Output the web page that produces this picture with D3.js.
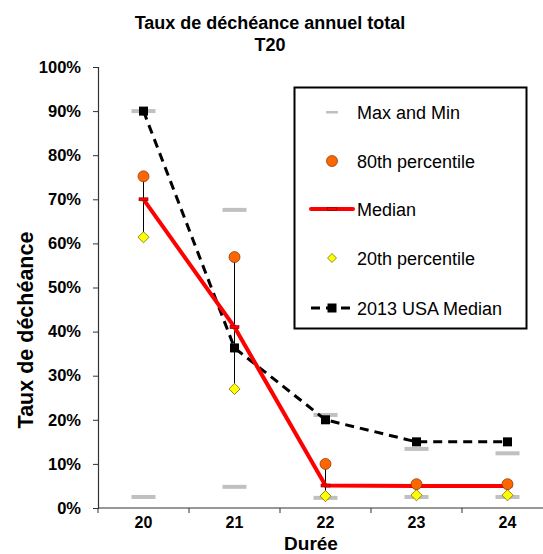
<!DOCTYPE html>
<html>
<head>
<meta charset="utf-8">
<script src="https://cdn.jsdelivr.net/npm/d3@7"></script>
<style>
  html, body { margin: 0; padding: 0; background: #fff; }
  svg { display: block; font-family: Arial, "Liberation Sans", sans-serif; }
</style>
</head>
<body>
<svg id="chart" width="543" height="554"></svg>
<script>
// Durée categories and series (fractions)
const categories = ["20", "21", "22", "23", "24"];
const maxValues  = [0.900, 0.676, 0.211, 0.134, 0.124];
const minValues  = [0.025, 0.048, 0.023, 0.025, 0.025];
const p80Values  = [0.752, 0.569, 0.100, 0.054, 0.054];
const medianValues = [0.700, 0.410, 0.051, 0.050, 0.050];
const p20Values  = [0.614, 0.270, 0.027, 0.029, 0.029];
const usaMedian  = [0.900, 0.363, 0.200, 0.150, 0.150];
const yTicks = [0, 0.1, 0.2, 0.3, 0.4, 0.5, 0.6, 0.7, 0.8, 0.9, 1.0];
const legendLabels = ["Max and Min", "80th percentile", "Median", "20th percentile", "2013 USA Median"];

const svg = d3.select("#chart");
const plotLeft = 98, plotTop = 67, plotBottom = 508, plotRight = 553;

const x = d3.scaleBand().domain(categories).range([plotLeft, plotRight]).padding(0);
const y = d3.scaleLinear().domain([0, 1]).range([plotBottom, plotTop]);
const cx = d => x(d) + x.bandwidth() / 2;

// Title
svg.append("text").attr("x", 270).attr("y", 29).attr("text-anchor", "middle")
  .attr("font-size", 18).attr("font-weight", "bold").text("Taux de déchéance annuel total");
svg.append("text").attr("x", 270).attr("y", 51).attr("text-anchor", "middle")
  .attr("font-size", 18).attr("font-weight", "bold").text("T20");

// Y axis
const yAxis = d3.axisLeft(y).tickValues(yTicks).tickFormat(d3.format(".0%")).tickSizeOuter(0).tickSize(5);
const gy = svg.append("g").attr("transform", `translate(${plotLeft},0)`).call(yAxis);
gy.select(".domain").attr("stroke", "#333").attr("stroke-width", 1.2);
gy.selectAll(".tick line").attr("stroke", "#333");
gy.selectAll(".tick text").attr("font-size", 16.5).attr("font-weight", "bold")
  .attr("font-family", "Arial, 'Liberation Sans', sans-serif").attr("fill", "#000").attr("x", -17);

// X axis with ticks at band boundaries
svg.append("line").attr("x1", plotLeft).attr("x2", 543).attr("y1", plotBottom).attr("y2", plotBottom)
  .attr("stroke", "#333").attr("stroke-width", 1.2);
const bounds = categories.map(c => x(c)).concat([plotRight]);
svg.append("g").selectAll("line").data(bounds).join("line")
  .attr("x1", d => d).attr("x2", d => d).attr("y1", plotBottom).attr("y2", plotBottom + 5)
  .attr("stroke", "#333");
svg.append("g").selectAll("text").data(categories).join("text")
  .attr("x", d => cx(d)).attr("y", 528).attr("text-anchor", "middle")
  .attr("font-size", 16).attr("font-weight", "bold").text(d => d);

// Axis titles
svg.append("text").attr("x", 311).attr("y", 550).attr("text-anchor", "middle")
  .attr("font-size", 19).attr("font-weight", "bold").text("Durée");
svg.append("text").attr("transform", "translate(33,330) rotate(-90)").attr("text-anchor", "middle")
  .attr("font-size", 21.5).attr("font-weight", "bold").text("Taux de déchéance");

const plot = svg.append("g");

// Max / Min gray dashes
const grey = "#c0c0c0";
[maxValues, minValues].forEach(vals => {
  plot.append("g").selectAll("rect").data(categories).join("rect")
    .attr("x", d => cx(d) - 12).attr("y", (d, i) => y(vals[i]) - 2)
    .attr("width", 24).attr("height", 4).attr("fill", grey);
});

// Vertical range lines 20th..80th
plot.append("g").selectAll("line").data(categories).join("line")
  .attr("x1", d => cx(d)).attr("x2", d => cx(d))
  .attr("y1", (d, i) => y(p80Values[i])).attr("y2", (d, i) => y(p20Values[i]))
  .attr("stroke", "#000").attr("stroke-width", 1);

// 2013 USA median dashed line
const seriesLine = d3.line().x((d, i) => cx(categories[i])).y(d => y(d));
plot.append("path").datum(usaMedian).attr("d", seriesLine)
  .attr("fill", "none").attr("stroke", "#000").attr("stroke-width", 3)
  .attr("stroke-dasharray", "9,6");
plot.append("g").selectAll("rect").data(usaMedian).join("rect")
  .attr("x", (d, i) => cx(categories[i]) - 4.5).attr("y", d => y(d) - 4.5)
  .attr("width", 9).attr("height", 9).attr("fill", "#000");

// Median red line
plot.append("path").datum(medianValues).attr("d", seriesLine)
  .attr("fill", "none").attr("stroke", "#ff0000").attr("stroke-width", 4);
plot.append("g").selectAll("rect").data(medianValues).join("rect")
  .attr("x", (d, i) => cx(categories[i]) - 4.5).attr("y", d => y(d) - 1.5)
  .attr("width", 9).attr("height", 3).attr("fill", "#ff0000")
  .attr("stroke", "#800000").attr("stroke-width", 0.6);

// 80th percentile circles
plot.append("g").selectAll("circle").data(p80Values).join("circle")
  .attr("cx", (d, i) => cx(categories[i])).attr("cy", d => y(d)).attr("r", 5.5)
  .attr("fill", "#ff6600").attr("stroke", "#7a3300").attr("stroke-width", 0.7);

// 20th percentile diamonds
const diamondPath = d3.symbol().type(d3.symbolSquare).size(62)();
plot.append("g").selectAll("path").data(p20Values).join("path")
  .attr("d", diamondPath)
  .attr("transform", (d, i) => `translate(${cx(categories[i])},${y(d)}) rotate(45)`)
  .attr("fill", "#ffff00").attr("stroke", "#666600").attr("stroke-width", 0.7);

// Legend
const lg = svg.append("g");
lg.append("rect").attr("x", 294.5).attr("y", 87.5).attr("width", 232).attr("height", 241)
  .attr("fill", "#fff").attr("stroke", "#000").attr("stroke-width", 2);
const rowsY = [112, 161, 209, 258, 308];
const symX = 332;
lg.selectAll("text").data(legendLabels).join("text")
  .attr("x", 357).attr("y", (d, i) => rowsY[i] + 6.5)
  .attr("font-size", 18).attr("fill", "#000").text(d => d);
// Max and Min
lg.append("rect").attr("x", symX - 6).attr("y", rowsY[0] - 1).attr("width", 12).attr("height", 2.5).attr("fill", grey);
// 80th
lg.append("circle").attr("cx", symX).attr("cy", rowsY[1]).attr("r", 5.5)
  .attr("fill", "#ff6600").attr("stroke", "#7a3300").attr("stroke-width", 0.7);
// Median
lg.append("line").attr("x1", 311).attr("x2", 353).attr("y1", rowsY[2]).attr("y2", rowsY[2])
  .attr("stroke", "#ff0000").attr("stroke-width", 4).attr("stroke-linecap", "round");
lg.append("rect").attr("x", symX - 4.5).attr("y", rowsY[2] - 1.5).attr("width", 9).attr("height", 3)
  .attr("fill", "#ff0000").attr("stroke", "#800000").attr("stroke-width", 0.6);
// 20th
lg.append("path").attr("d", d3.symbol().type(d3.symbolSquare).size(40)())
  .attr("transform", `translate(${symX},${rowsY[3]}) rotate(45)`)
  .attr("fill", "#ffff00").attr("stroke", "#666600").attr("stroke-width", 0.7);
// USA
lg.append("line").attr("x1", 311).attr("x2", 353).attr("y1", rowsY[4]).attr("y2", rowsY[4])
  .attr("stroke", "#000").attr("stroke-width", 3).attr("stroke-dasharray", "9,6");
lg.append("rect").attr("x", symX - 4.5).attr("y", rowsY[4] - 4.5).attr("width", 9).attr("height", 9).attr("fill", "#000");
</script>
</body>
</html>
